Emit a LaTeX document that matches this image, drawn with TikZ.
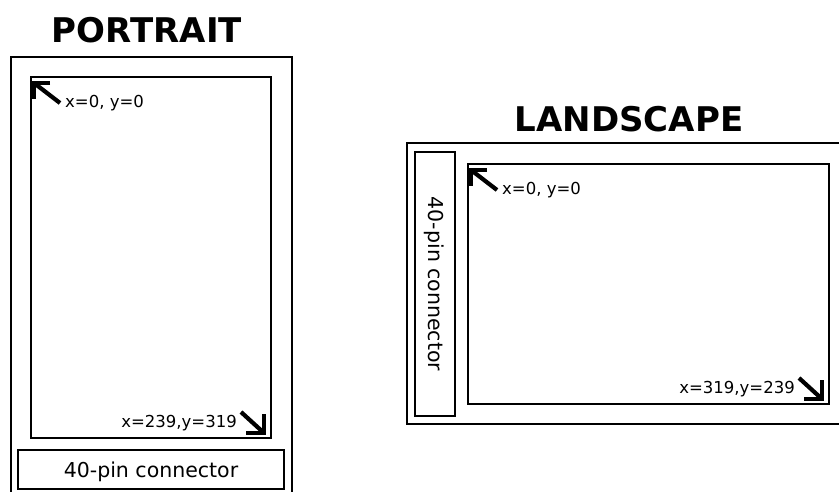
\documentclass[tikz,border=0pt]{standalone}
\usepackage{fontspec}
\setmainfont{DejaVu Sans}
\usetikzlibrary{calc}
\begin{document}
\begin{tikzpicture}[x=1pt,y=-1pt,
  frame/.style={draw, line width=1.6pt, inner sep=0pt, outer sep=0pt},
  title/.style={font=\bfseries\fontsize{34}{34}\selectfont, inner sep=0pt},
  coordtext/.style={font=\fontsize{16.5}{16.5}\selectfont, inner sep=0pt},
  pintext/.style={font=\fontsize{20.5}{20.5}\selectfont, inner sep=0pt},
  ptr/.style={line width=4.2pt, line join=miter}]
\useasboundingbox (0,0) rectangle (839,491);
\clip (0,0) rectangle (839,491);

% ---------------- portrait ----------------
\node[title, anchor=base] (ptitle) at (147,42) {PORTRAIT};
\node[frame, anchor=north west, minimum width=281pt, minimum height=460pt] (pbody) at (11,57) {};
\node[frame, anchor=north west, minimum width=240pt, minimum height=361pt] (pscreen) at (31,77) {};
\node[frame, anchor=north west, minimum width=266pt, minimum height=39pt] (pconn) at (18,450) {};
\node[pintext, anchor=base] (pconntext) at (151,477) {40-pin connector};

% origin marker
\coordinate (ptl) at ($(pscreen.north west)+(3,6)$);
\draw[ptr] ($(ptl)+(16,0)$) -- (ptl) -- ($(ptl)+(0,16)$);
\draw[ptr] (ptl) -- ($(ptl)+(26,20)$);
\node[coordtext, anchor=base west] (ptltext) at ($(pscreen.north west)+(34,30)$) {x=0, y=0};

% far corner marker
\coordinate (pbr) at ($(pscreen.south east)+(-7,-5)$);
\draw[ptr] ($(pbr)+(-18,0)$) -- (pbr) -- ($(pbr)+(0,-19)$);
\draw[ptr] (pbr) -- ($(pbr)+(-23,-21)$);
\node[coordtext, anchor=base east] (pbrtext) at ($(pscreen.south east)+(-34,-11)$) {x=239,y=319};

% ---------------- landscape ----------------
\node[title, anchor=base] (ltitle) at (629,131) {LANDSCAPE};
\node[frame, anchor=north west, minimum width=450pt, minimum height=281pt] (lbody) at (407,143) {};
\node[frame, anchor=north west, minimum width=40pt, minimum height=264pt] (lconn) at (415,152) {};
\node[pintext, anchor=base, rotate=-90] (lconntext) at (428,284) {40-pin connector};
\node[frame, anchor=north west, minimum width=361pt, minimum height=240pt] (lscreen) at (468,164) {};

% origin marker
\coordinate (ltl) at ($(lscreen.north west)+(3,6)$);
\draw[ptr] ($(ltl)+(16,0)$) -- (ltl) -- ($(ltl)+(0,16)$);
\draw[ptr] (ltl) -- ($(ltl)+(26,20)$);
\node[coordtext, anchor=base west] (ltltext) at ($(lscreen.north west)+(34,30)$) {x=0, y=0};

% far corner marker
\coordinate (lbr) at ($(lscreen.south east)+(-7,-5)$);
\draw[ptr] ($(lbr)+(-18,0)$) -- (lbr) -- ($(lbr)+(0,-19)$);
\draw[ptr] (lbr) -- ($(lbr)+(-23,-21)$);
\node[coordtext, anchor=base east] (lbrtext) at ($(lscreen.south east)+(-34,-11)$) {x=319,y=239};
\end{tikzpicture}
\end{document}
